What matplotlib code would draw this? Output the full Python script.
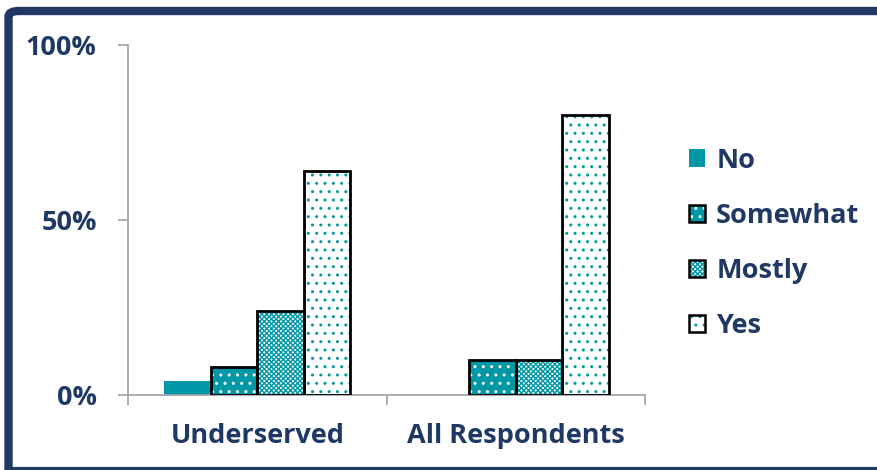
import matplotlib.pyplot as plt
import numpy as np
from matplotlib.patches import Patch, FancyBboxPatch
from matplotlib.ticker import FuncFormatter
from matplotlib.legend_handler import HandlerTuple

# data (percent)
categories = ["Underserved", "All Respondents"]
series = ["No", "Somewhat", "Mostly", "Yes"]
no = [4, 0]
somewhat = [8, 10]
mostly = [24, 10]
yes = [64, 80]

TEAL = "#0098A6"
NAVY = "#1F3864"
GRAY = "#A6A6A6"

plt.rcParams['font.family'] = ['Open Sans', 'DejaVu Sans']
plt.rcParams['hatch.linewidth'] = 1.0

fig = plt.figure(figsize=(8.77, 4.70), dpi=100)
ax = fig.add_axes([0.146, 0.1596, 0.5895, 0.7447])

# fill / hatch / edge styles per series
styles = [
    dict(face=TEAL, hatch=None, hcol=TEAL, edge=False),
    dict(face=TEAL, hatch="..", hcol="white", edge=True),
    dict(face="white", hatch="xxxxxxx", hcol=TEAL, edge=True),
    dict(face="white", hatch="..", hcol=TEAL, edge=True),
]

x = np.arange(len(categories))
w = 0.18
values = [no, somewhat, mostly, yes]
handles = []
for i, (vals, st) in enumerate(zip(values, styles)):
    pos = x + (i - 1.5) * w
    ax.bar(pos, vals, w, color=st["face"], hatch=st["hatch"],
           edgecolor=st["hcol"], linewidth=0, zorder=2)
    if st["edge"]:
        ax.bar(pos, vals, w, fill=False, edgecolor="black", linewidth=2, zorder=3)
    p1 = Patch(facecolor=st["face"], hatch=st["hatch"], edgecolor=st["hcol"], linewidth=0)
    if st["edge"]:
        p2 = Patch(fill=False, edgecolor="black", linewidth=1.8)
        handles.append((p1, p2))
    else:
        handles.append(p1)

FS = 19.5
leg = fig.legend(handles, series, loc="center left", bbox_to_anchor=(0.758, 0.482),
                 frameon=False, handler_map={tuple: HandlerTuple(ndivide=1, pad=0)},
                 handlelength=0.6, handleheight=0.6, handletextpad=0.4,
                 labelspacing=1.08, prop=dict(size=FS, weight="bold"))
for t in leg.get_texts():
    t.set_color(NAVY)

ax.set_xlim(-0.5, 1.5)
ax.set_ylim(0, 100)
ax.set_yticks([0, 50, 100])
ax.yaxis.set_major_formatter(FuncFormatter(lambda v, p: f"{int(v)}%"))
ax.set_xticks(x)
ax.set_xticklabels(categories)
ax.set_xticks([-0.5, 0.5, 1.5], minor=True)
ax.tick_params(axis="x", which="major", length=0, pad=20)
ax.tick_params(axis="x", which="minor", length=7, width=1.3, color=GRAY, direction="out")
ax.tick_params(axis="y", length=7, width=1.3, color=GRAY, pad=15.5)
for lab in ax.get_xticklabels() + ax.get_yticklabels():
    lab.set_fontsize(FS)
    lab.set_fontweight("bold")
    lab.set_color(NAVY)

for s in ["top", "right"]:
    ax.spines[s].set_visible(False)
for s in ["left", "bottom"]:
    ax.spines[s].set_color(GRAY)
    ax.spines[s].set_linewidth(1.3)

# outer frame
frame = FancyBboxPatch((8.5 / 877, -0.05), 1.1, 1 - 11 / 470 + 0.05,
                       boxstyle="round,pad=0,rounding_size=0.012",
                       transform=fig.transFigure, fill=False,
                       edgecolor=NAVY, linewidth=6, zorder=10)
fig.patches.append(frame)
fig.add_artist(plt.Line2D([8.5 / 877, 1], [1.5 / 470, 1.5 / 470], transform=fig.transFigure,
                          color=NAVY, linewidth=3))

fig.savefig("out.png", dpi=100)
